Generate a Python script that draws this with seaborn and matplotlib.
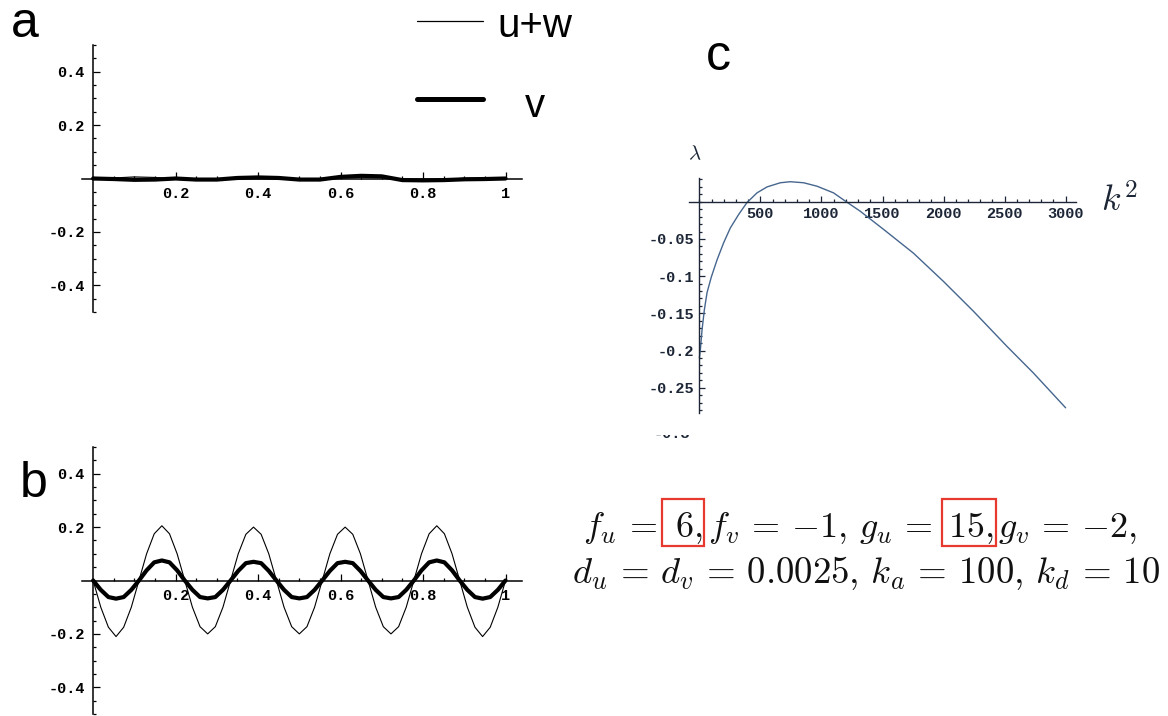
import numpy as np
import pandas as pd
import matplotlib.pyplot as plt
import seaborn as sns
from matplotlib.ticker import MultipleLocator
from matplotlib.lines import Line2D
from matplotlib.patches import Rectangle

#BEGIN DATA

# panel a : nearly flat profiles (x every 0.05)
xa = [0, .05, .1, .15, .2, .25, .3, .35, .4, .45, .5,
      .55, .6, .65, .7, .75, .8, .85, .9, .95, 1]
uw_a = [0, 0.002, 0.006, 0.004, -0.002, -0.006, -0.005, 0.003, 0.006, 0.002, -0.002,
        -0.003, 0.008, 0.012, 0.009, -0.005, -0.006, -0.004, 0.001, 0.002, 0.0]
v_a = [0, -0.002, -0.005, -0.004, 0.0, -0.004, -0.004, 0.002, 0.004, 0.002, -0.004,
       -0.004, 0.006, 0.010, 0.008, -0.006, -0.007, -0.006, -0.003, -0.002, 0.0]

# panel b : patterned profiles (x = k/54)
xb = [k / 54 for k in range(55)]
uw_b = [0, -0.10, -0.175, -0.21, -0.175, -0.10,
        0, 0.10, 0.175, 0.205, 0.175, 0.10,
        0, -0.10, -0.173, -0.20, -0.173, -0.10,
        0, 0.10, 0.173, 0.20, 0.173, 0.10,
        0, -0.10, -0.173, -0.20, -0.173, -0.10,
        0, 0.10, 0.173, 0.20, 0.173, 0.10,
        0, -0.10, -0.173, -0.20, -0.173, -0.10,
        0, 0.10, 0.175, 0.205, 0.175, 0.10,
        0, -0.10, -0.175, -0.21, -0.175, -0.10, 0]
v_b = [0, -0.035, -0.062, -0.068, -0.062, -0.035,
       0, 0.038, 0.068, 0.075, 0.068, 0.038,
       0, -0.035, -0.062, -0.067, -0.062, -0.035,
       0, 0.036, 0.065, 0.07, 0.065, 0.036,
       0, -0.035, -0.062, -0.067, -0.062, -0.035,
       0, 0.036, 0.065, 0.07, 0.065, 0.036,
       0, -0.035, -0.062, -0.067, -0.062, -0.035,
       0, 0.038, 0.068, 0.075, 0.068, 0.038,
       0, -0.035, -0.062, -0.068, -0.062, -0.035, 0]

# panel c : dispersion relation lambda(k^2)
k2 = [0, 8, 22, 41, 63, 98, 145, 199, 254, 322, 390, 472, 554, 663, 745,
      854, 963, 1099, 1195, 1317, 1508, 1753, 1999, 2244, 2517, 2735, 3000]
lam = [-0.21, -0.199, -0.172, -0.145, -0.122, -0.101, -0.078, -0.055, -0.035,
       -0.017, -0.001, 0.012, 0.020, 0.0256, 0.027, 0.0256, 0.021, 0.012, 0.001,
       -0.0126, -0.037, -0.069, -0.107, -0.147, -0.194, -0.230, -0.277]

ab_xticks = [0.2, 0.4, 0.6, 0.8, 1]
ab_xlabels = ['0.2', '0.4', '0.6', '0.8', '1']
ab_yticks = [-0.4, -0.2, 0.2, 0.4]
ab_ylabels = ['-0.4', '-0.2', '0.2', '0.4']
c_xticks = [500, 1000, 1500, 2000, 2500, 3000]
c_yticks = [-0.25, -0.2, -0.15, -0.1, -0.05]
c_ylabels = ['-0.25', '-0.2', '-0.15', '-0.1', '-0.05']

#END DATA
#BEGIN PLOTTING

sns.set_style('white')
plt.rcParams['mathtext.fontset'] = 'cm'
plt.rcParams['text.color'] = 'black'
W, H = 1168, 716
fig = plt.figure(figsize=(W / 100, H / 100), dpi=100)

def box(x0, y0, x1, y1):
    # pixel box (top-left origin) -> figure fraction rect
    return [x0 / W, 1 - y1 / H, (x1 - x0) / W, (y1 - y0) / H]

tickfont = dict(family='Liberation Mono', size=11, weight='bold')

def style_axes(ax, color='black', lw=1.1):
    for s in ['top', 'right']:
        ax.spines[s].set_visible(False)
    for s in ['left', 'bottom']:
        ax.spines[s].set_position(('data', 0))
        ax.spines[s].set_color(color)
        ax.spines[s].set_linewidth(lw)
    ax.tick_params(which='both', direction='in', colors=color, width=0.9,
                   bottom=True, left=True)
    ax.tick_params(which='major', length=5, pad=6)
    ax.tick_params(which='minor', length=2.5)
    ax.set_xlabel('')
    ax.set_ylabel('')
    for lab in ax.get_xticklabels() + ax.get_yticklabels():
        lab.set_fontfamily(tickfont['family'])
        lab.set_fontsize(tickfont['size'])
        lab.set_fontweight(tickfont['weight'])

def ab_panel(rect, x, uw, v):
    ax = fig.add_axes(rect)
    df = pd.DataFrame({'x': x, 'uw': uw, 'v': v})
    sns.lineplot(data=df, x='x', y='v', ax=ax, color='black', lw=3.0,
                 sort=False, estimator=None)
    sns.lineplot(data=df, x='x', y='uw', ax=ax, color='black', lw=0.8,
                 sort=False, estimator=None)
    ax.set_xlim(-0.027, 1.04)
    ax.set_ylim(-0.5, 0.5)
    ax.set_xticks(ab_xticks, labels=ab_xlabels)
    ax.set_yticks(ab_yticks, labels=ab_ylabels)
    ax.xaxis.set_minor_locator(MultipleLocator(0.05))
    ax.yaxis.set_minor_locator(MultipleLocator(0.05))
    style_axes(ax)
    return ax

ax_a = ab_panel(box(82, 45, 522, 312), xa, uw_a, v_a)
ax_b = ab_panel(box(82, 447, 522, 714), xb, uw_b, v_b)

# panel c
curve_col = '#46668e'
text_col = '#1c2636'
ax_c = fig.add_axes(box(689, 178, 1076, 413))
dfc = pd.DataFrame({'k2': k2, 'lam': lam})
sns.lineplot(data=dfc, x='k2', y='lam', ax=ax_c, color=curve_col, lw=1.0,
             sort=False, estimator=None)
ax_c.set_xlim(-85, 3085)
ax_c.set_ylim(-0.284, 0.032)
ax_c.set_xticks(c_xticks, labels=[str(t) for t in c_xticks])
ax_c.set_yticks(c_yticks, labels=c_ylabels)
ax_c.xaxis.set_minor_locator(MultipleLocator(100))
ax_c.yaxis.set_minor_locator(MultipleLocator(0.01))
style_axes(ax_c, color=text_col, lw=1.0)
ax_c.tick_params(which='major', length=4, pad=4)
ax_c.tick_params(which='minor', length=2)

# partially cropped -0.3 label under panel c
fig.text(690 / W, 1 - 438 / H, '-0.3', ha='right', va='baseline', color=text_col,
         **tickfont)
fig.add_artist(Rectangle((630 / W, 1 - 435 / H), 70 / W, 19 / H,
                         transform=fig.transFigure, fc='white', ec='none', zorder=5))

fig.text(688 / W, 1 - 159 / H, r'$\lambda$', fontsize=15, color=text_col)
fig.text(1101 / W, 1 - 212 / H, r'$k^2$', fontsize=26, color=text_col)

# panel letters
lettfont = dict(family='Liberation Sans', size=36, color='black')
fig.text(11 / W, 1 - 37 / H, 'a', va='baseline', **lettfont)
fig.text(20 / W, 1 - 497 / H, 'b', va='baseline', **lettfont)
fig.text(706 / W, 1 - 70 / H, 'c', va='baseline', **lettfont)

# legend keys
fig.add_artist(Line2D([417 / W, 483 / W], [1 - 21 / H, 1 - 21 / H], color='black',
                      lw=0.9, transform=fig.transFigure))
fig.add_artist(Line2D([417 / W, 483 / W], [1 - 99 / H, 1 - 99 / H], color='black',
                      lw=3.6, transform=fig.transFigure))
fig.text(497 / W, 1 - 37 / H, 'u+w', va='baseline', family='Liberation Sans',
         size=29, color='black')
fig.text(535 / W, 1 - 117 / H, 'v', va='baseline', ha='center',
         family='Liberation Sans', size=29, color='black')

# parameter equations
eqsize = 26
eqcol = '#111111'
renderer = fig.canvas.get_renderer()
base1 = 537
# (text, left pad of red box or None, gap before)
line1 = [(r'$f_u \,=$', None, 0), (r'$6,$', 13, 18),
         (r'$f_v \,=\, {-1},\, g_u\,=$', None, 6),
         (r'$15,$', 6, 15), (r'$g_v \,=\, {-2},$', None, 4)]
xpos = 583
for txt, pad, gap in line1:
    xpos += gap
    t = fig.text(xpos / W, 1 - base1 / H, txt, fontsize=eqsize, va='baseline',
                 color=eqcol)
    ext = t.get_window_extent(renderer)
    if pad is not None:
        x0, x1 = ext.x0 - pad, ext.x1 + 2
        y0, y1 = H - (base1 + 9), H - (base1 - 38)
        fig.add_artist(Rectangle((x0 / W, y0 / H), (x1 - x0) / W, (y1 - y0) / H,
                                 transform=fig.transFigure, fc='none',
                                 ec='#e8392f', lw=1.6))
    xpos = ext.x1
fig.text(572 / W, 1 - 583 / H,
         r'$d_u \,=\, d_v \,=\, 0.0025,\, k_a \,=\, 100,\, k_d \,=\, 10$',
         fontsize=26.5, va='baseline', color=eqcol)

fig.savefig('out.png', dpi=100)
